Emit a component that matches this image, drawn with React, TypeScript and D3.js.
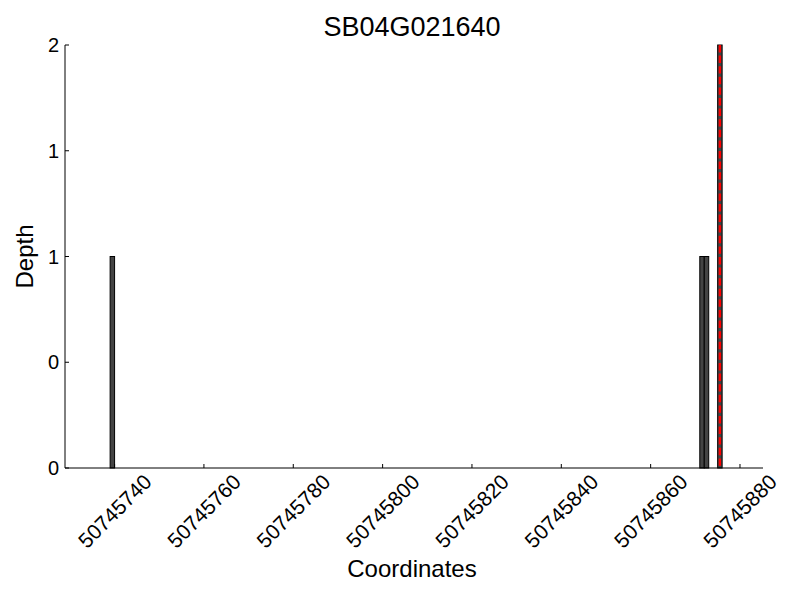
import * as d3 from 'd3'

const TITLE = 'SB04G021640'
const X_LABEL = 'Coordinates'
const Y_LABEL = 'Depth'

// read coverage bins: start coordinate and depth
const POSITIONS = [50745739, 50745871, 50745872, 50745875]
const DEPTHS = [1, 1, 1, 2]
const SNP_POSITION = 50745875

const X_DOMAIN: [number, number] = [50745728.9, 50745885.15]
const Y_DOMAIN: [number, number] = [0, 2]
const X_TICKS = [50745740, 50745760, 50745780, 50745800, 50745820, 50745840, 50745860, 50745880]
const Y_TICKS = [0, 0.5, 1, 1.5, 2]
const Y_TICK_LABELS = ['0', '0', '1', '1', '2']

const WIDTH = 800
const HEIGHT = 600
const MARGIN = { top: 45, right: 37, bottom: 132, left: 65 }
const FONT = '"Liberation Sans", Arial, Helvetica, sans-serif'

export default function App() {
  const x = d3
    .scaleLinear()
    .domain(X_DOMAIN)
    .range([MARGIN.left, WIDTH - MARGIN.right])
  const y = d3
    .scaleLinear()
    .domain(Y_DOMAIN)
    .range([HEIGHT - MARGIN.bottom, MARGIN.top])
  const bottom = HEIGHT - MARGIN.bottom
  const centerX = (MARGIN.left + WIDTH - MARGIN.right) / 2 - 2

  return (
    <div style={{ position: 'fixed', left: 0, top: 0, background: '#fff' }}>
      <svg width={WIDTH} height={HEIGHT} viewBox={`0 0 ${WIDTH} ${HEIGHT}`} fontFamily={FONT}>
        <rect width={WIDTH} height={HEIGHT} fill="#fff" />

        <text x={centerX} y={36} textAnchor="middle" fontSize={27}>
          {TITLE}
        </text>

        {POSITIONS.map((pos, i) => (
          <rect
            key={pos}
            x={x(pos)}
            y={y(DEPTHS[i])}
            width={x(pos + 1) - x(pos)}
            height={bottom - y(DEPTHS[i])}
            fill="#444"
            stroke="#000"
            strokeWidth={1}
          />
        ))}

        <line
          x1={x(SNP_POSITION + 0.5)}
          x2={x(SNP_POSITION + 0.5)}
          y1={y(Y_DOMAIN[1])}
          y2={bottom}
          stroke="#ff0000"
          strokeWidth={2.4}
          strokeDasharray="7.4 3.2"
        />

        {/* spines */}
        <line x1={MARGIN.left} x2={MARGIN.left} y1={MARGIN.top} y2={bottom} stroke="#000" strokeWidth={1} />
        <line x1={MARGIN.left} x2={WIDTH - MARGIN.right} y1={bottom} y2={bottom} stroke="#000" strokeWidth={1} />

        {Y_TICKS.map((t, i) => (
          <g key={t}>
            <line x1={MARGIN.left} x2={MARGIN.left + 4} y1={y(t)} y2={y(t)} stroke="#000" />
            <text x={MARGIN.left - 6} y={y(t)} dy="0.36em" textAnchor="end" fontSize={20}>
              {Y_TICK_LABELS[i]}
            </text>
          </g>
        ))}

        {X_TICKS.map((t) => (
          <g key={t}>
            <line x1={x(t)} x2={x(t)} y1={bottom} y2={bottom - 4} stroke="#000" />
            <text
              transform={`translate(${x(t)} ${bottom + 43}) rotate(-45)`}
              textAnchor="middle"
              dy="0.36em"
              fontSize={21}
            >
              {t}
            </text>
          </g>
        ))}

        <text x={centerX} y={577} textAnchor="middle" fontSize={24}>
          {X_LABEL}
        </text>
        <text
          transform={`translate(33 ${(MARGIN.top + bottom) / 2}) rotate(-90)`}
          textAnchor="middle"
          fontSize={24}
        >
          {Y_LABEL}
        </text>
      </svg>
    </div>
  )
}
